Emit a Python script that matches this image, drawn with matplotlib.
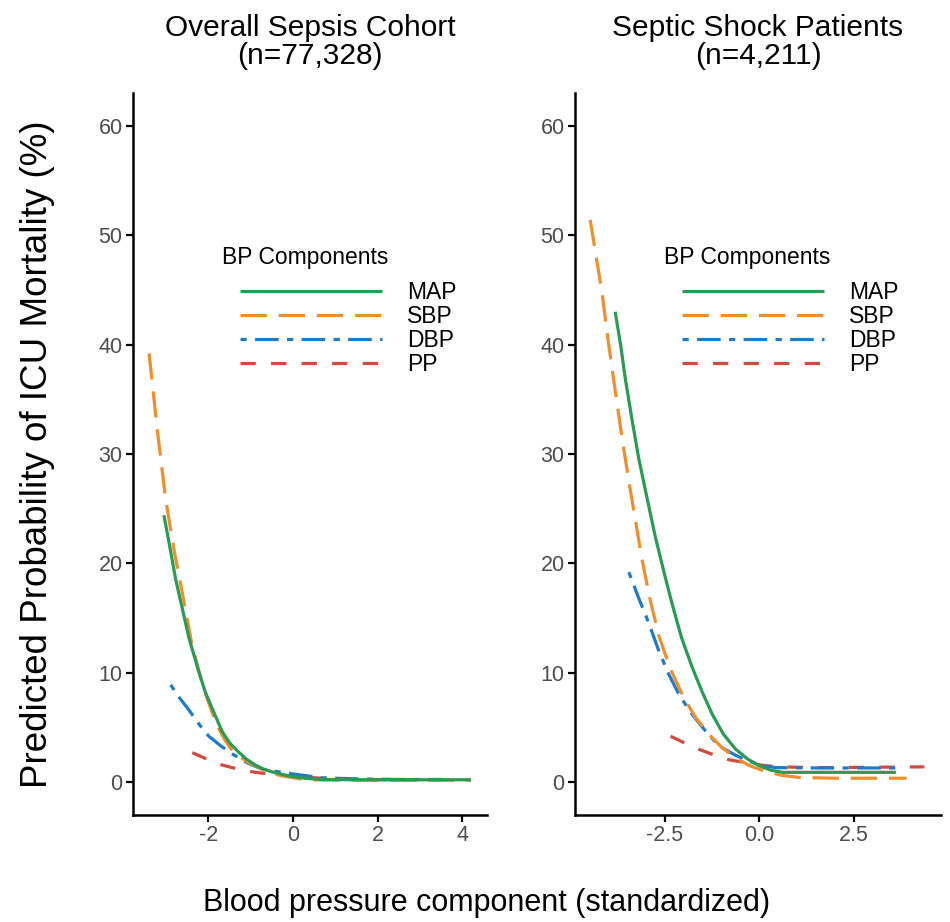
import numpy as np
import matplotlib
matplotlib.use("Agg")
import matplotlib.pyplot as plt

plt.rcParams['font.family'] = ['Liberation Sans', 'DejaVu Sans']
plt.rcParams['lines.scale_dashes'] = False

# =========================
# DATA
# =========================

components = ["MAP", "SBP", "DBP", "PP"]
colors = {"MAP": "#2B9A55", "SBP": "#EE8F2E", "DBP": "#1E7BC8", "PP": "#D2493F"}
dashes = {"MAP": None, "SBP": (19, 8.5), "DBP": (4.5, 6, 17, 6), "PP": (11, 11)}

titles = ["Overall Sepsis Cohort\n(n=77,328)", "Septic Shock Patients\n(n=4,211)"]

# Overall sepsis cohort
overall_map_x = [-3.05, -2.9, -2.77, -2.6, -2.46, -2.25, -2.07, -1.85, -1.67, -1.5, -1.3, -1.1,
                 -0.89, -0.7, -0.5, -0.11, 0.3, 0.67, 1.5, 2.5, 3.5, 4.2]
overall_map_y = [24.4, 21.3, 18.5, 15.6, 13.2, 10.4, 8.2, 6.2, 4.6, 3.6, 2.8, 2.1,
                 1.56, 1.2, 0.95, 0.57, 0.35, 0.25, 0.22, 0.22, 0.22, 0.22]
overall_sbp_x = [-3.40, -3.2, -3.01, -2.8, -2.61, -2.4, -2.14, -1.95, -1.8, -1.6, -1.44, -1.1,
                 -0.74, -0.3, 0.28, 1.0, 2.0, 3.0, 4.2]
overall_sbp_y = [39.2, 32.0, 25.9, 21.0, 17.2, 12.8, 8.9, 6.8, 5.2, 3.8, 2.9, 1.9,
                 1.2, 0.6, 0.23, 0.18, 0.18, 0.18, 0.18]
overall_dbp_x = [-2.89, -2.7, -2.46, -2.2, -1.99, -1.7, -1.44, -1.1, -0.74, -0.35, 0.0, 0.67,
                 1.5, 2.5, 3.5]
overall_dbp_y = [8.9, 7.8, 6.6, 5.2, 4.2, 3.3, 2.6, 1.8, 1.2, 0.95, 0.75, 0.4,
                 0.3, 0.25, 0.25]
overall_pp_x = [-2.38, -2.0, -1.67, -1.3, -0.89, -0.5, -0.11, 0.7, 1.5, 2.5, 3.5]
overall_pp_y = [2.7, 2.05, 1.56, 1.2, 0.9, 0.72, 0.57, 0.35, 0.25, 0.22, 0.22]

# Septic shock patients
shock_map_x = [-3.80, -3.65, -3.53, -3.35, -3.18, -2.95, -2.74, -2.5, -2.30, -2.05, -1.77, -1.5,
               -1.24, -0.95, -0.62, -0.3, 0.0, 0.3, 0.62, 1.5, 2.5, 3.6]
shock_map_y = [43.0, 39.8, 36.8, 33.0, 29.6, 25.8, 22.4, 19.0, 16.3, 13.2, 10.5, 8.2,
               6.2, 4.4, 3.0, 2.1, 1.5, 1.1, 0.9, 0.9, 0.9, 0.9]
shock_sbp_x = [-4.46, -4.3, -4.15, -3.98, -3.80, -3.62, -3.44, -3.25, -3.09, -2.88, -2.65, -2.35,
               -2.03, -1.7, -1.33, -1.0, -0.62, -0.25, 0.17, 0.6, 1.06, 2.0, 3.0, 3.88]
shock_sbp_y = [51.4, 48.0, 44.8, 40.2, 35.8, 31.5, 27.5, 23.6, 20.3, 16.7, 13.4, 10.4,
               8.0, 6.0, 4.4, 3.2, 2.2, 1.5, 0.97, 0.62, 0.43, 0.36, 0.36, 0.36]
shock_dbp_x = [-3.44, -3.2, -2.91, -2.65, -2.38, -2.1, -1.77, -1.4, -1.06, -0.65, -0.27, 0.1,
               0.44, 1.5, 2.5, 3.6]
shock_dbp_y = [19.2, 17.0, 14.5, 12.0, 9.8, 7.9, 6.2, 4.6, 3.3, 2.5, 1.9, 1.5,
               1.33, 1.3, 1.3, 1.3]
shock_pp_x = [-2.34, -1.95, -1.59, -1.2, -0.80, -0.3, 0.17, 0.8, 1.5, 2.5, 3.5, 4.35]
shock_pp_y = [4.2, 3.55, 3.0, 2.5, 2.05, 1.75, 1.5, 1.38, 1.33, 1.35, 1.38, 1.4]

panels = [
    {"MAP": (overall_map_x, overall_map_y), "SBP": (overall_sbp_x, overall_sbp_y),
     "DBP": (overall_dbp_x, overall_dbp_y), "PP": (overall_pp_x, overall_pp_y)},
    {"MAP": (shock_map_x, shock_map_y), "SBP": (shock_sbp_x, shock_sbp_y),
     "DBP": (shock_dbp_x, shock_dbp_y), "PP": (shock_pp_x, shock_pp_y)},
]

x_ticks = [[-2, 0, 2, 4], [-2.5, 0.0, 2.5]]
x_tick_labels = [["-2", "0", "2", "4"], ["-2.5", "0.0", "2.5"]]
x_limits = [(-3.78, 4.58), (-4.86, 4.79)]
y_ticks = [0, 10, 20, 30, 40, 50, 60]

# =========================
# FIGURE
# =========================

W, H = 950, 922
fig = plt.figure(figsize=(W / 100, H / 100), dpi=100)

axes_px = [(133, 93, 487, 815), (575, 93, 941, 815)]

for i, (x0, y0, x1, y1) in enumerate(axes_px):
    ax = fig.add_axes([x0 / W, 1 - y1 / H, (x1 - x0) / W, (y1 - y0) / H])

    handles = []
    for k, comp in enumerate(components):
        xs, ys = panels[i][comp]
        line, = ax.plot(xs, ys, color=colors[comp], lw=2.3, label=comp,
                        solid_capstyle="butt", dash_capstyle="butt",
                        solid_joinstyle="round", zorder=5 - k)
        if dashes[comp] is not None:
            line.set_dashes(dashes[comp])
        handles.append(line)

    ax.set_xlim(*x_limits[i])
    ax.set_ylim(-3, 63)
    ax.set_xticks(x_ticks[i])
    ax.set_xticklabels(x_tick_labels[i])
    ax.set_yticks(y_ticks)

    for side in ["top", "right"]:
        ax.spines[side].set_visible(False)
    for side in ["left", "bottom"]:
        ax.spines[side].set_linewidth(1.8)
        ax.spines[side].set_color("black")

    ax.tick_params(axis="both", length=5, width=1.6, color="black",
                   labelsize=15.5, labelcolor="#4D4D4D", pad=2.5)

    ax.set_title(titles[i], fontsize=21.5, pad=21, linespacing=1.0)

    # legend (title drawn as text, keys indented like the original)
    ax.text(89 / (x1 - x0), 1 - (257 - y0) / (y1 - y0), "BP Components",
            transform=ax.transAxes, fontsize=16.5, va="center", ha="left")
    ax.legend(handles=handles, loc="upper left",
              bbox_to_anchor=(107 / (x1 - x0), 1 - (281 - y0) / (y1 - y0)),
              frameon=False, fontsize=16.5, handlelength=6.2, handletextpad=1.1,
              labelspacing=0.04, borderpad=0, borderaxespad=0)

fig.text(38 / W, 1 - 454 / H, "Predicted Probability of ICU Mortality (%)",
         rotation=90, ha="center", va="center", fontsize=26.5)
fig.text(487 / W, 1 - 903 / H, "Blood pressure component (standardized)",
         ha="center", va="center", fontsize=22)

fig.savefig("out.png", dpi=100)
